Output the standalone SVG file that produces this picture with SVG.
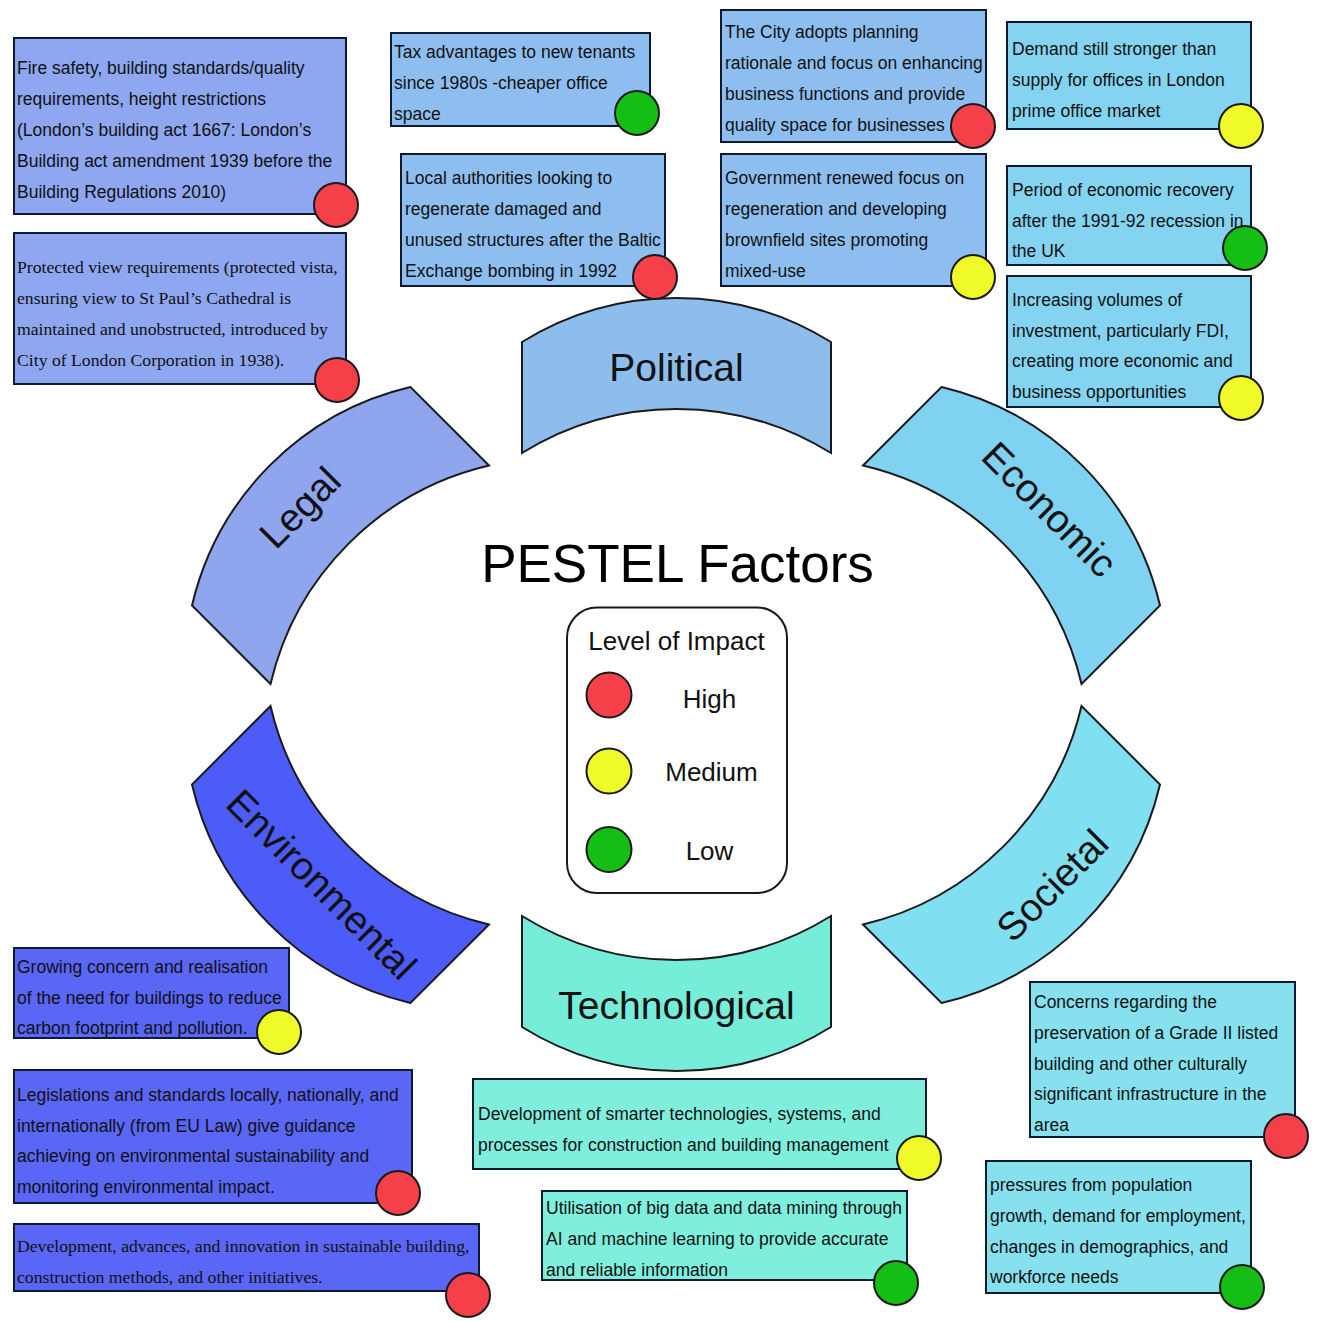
<svg xmlns="http://www.w3.org/2000/svg" xmlns:xlink="http://www.w3.org/1999/xlink" width="1320" height="1321" viewBox="0 0 1320 1321">
<style>
.band{stroke:#1a1a1a;stroke-width:2}
.lbl{font-family:"Liberation Sans",Arial,sans-serif;font-size:39px;fill:#111;text-anchor:middle}
.box{stroke:#0d1a33;stroke-width:2}
.t{font-family:"Liberation Sans",Arial,sans-serif;font-size:17.5px;fill:#111}
.s{font-family:"Liberation Serif","Times New Roman",serif;font-size:17.7px;fill:#111}
.dot{stroke:#1a1a1a;stroke-width:2}
.red{fill:#F5404A}
.yel{fill:#F0FA28}
.grn{fill:#14BE14}
.cP{fill:#8EBEF0}.cL{fill:#8EA7F0}.cE{fill:#84D3F0}.cV{fill:#5A66F5}.cT{fill:#80EEDC}.cS{fill:#86E0EE}
</style>
<defs>
<path id="up" d="M-154.5,-55.5 A293,293 0 0 1 154.5,-55.5 L154.5,55.5 A293,293 0 0 0 -154.5,55.5 Z"/>
<path id="down" d="M-154.5,-55.5 A293,293 0 0 0 154.5,-55.5 L154.5,55.5 A293,293 0 0 1 -154.5,55.5 Z"/>
</defs>
<rect width="1320" height="1321" fill="#fff"/>

<g id="bands">
<g id="political"><use xlink:href="#up" class="band" fill="#8DBDED" transform="translate(676.5,397.5)"/><text class="lbl" x="676.5" y="381">Political</text></g>
<g id="technological"><use xlink:href="#down" class="band" fill="#76EDD9" transform="translate(676.5,971.5)"/><text class="lbl" x="676.5" y="1019">Technological</text></g>
<g id="legal"><use xlink:href="#up" class="band" fill="#8FA6EE" transform="translate(340.5,535.5) rotate(-45)"/><text class="lbl" transform="translate(302.5,510) rotate(-45)" y="10">Legal</text></g>
<g id="economic"><use xlink:href="#up" class="band" fill="#7FD2F2" transform="translate(1011.5,535.5) rotate(45)"/><text class="lbl" transform="translate(1050,509) rotate(45)" y="14">Economic</text></g>
<g id="environmental"><use xlink:href="#down" class="band" fill="#4C5CF8" transform="translate(340.5,854.5) rotate(45)"/><text class="lbl" transform="translate(322,884) rotate(45)" y="14">Environmental</text></g>
<g id="societal"><use xlink:href="#down" class="band" fill="#80DFF0" transform="translate(1011.5,854.5) rotate(-45)"/><text class="lbl" transform="translate(1052,885) rotate(-45)" y="14">Societal</text></g>
</g>

<g id="title"><text x="677.5" y="582" style="font-family:'Liberation Sans',Arial,sans-serif;font-size:53px;fill:#000;text-anchor:middle">PESTEL Factors</text></g>

<g id="legend">
<rect x="567" y="607.5" width="220" height="285.5" rx="30" fill="#fff" stroke="#1a1a1a" stroke-width="2"/>
<text x="676.5" y="650" style="font-family:'Liberation Sans',Arial,sans-serif;font-size:26px;fill:#111;text-anchor:middle">Level of Impact</text>
<circle class="dot red" cx="609" cy="695" r="22.5"/>
<circle class="dot yel" cx="609" cy="771" r="22.5"/>
<circle class="dot grn" cx="609" cy="849.5" r="22.5"/>
<g style="font-family:'Liberation Sans',Arial,sans-serif;font-size:26px;fill:#111;text-anchor:middle">
<text x="709.5" y="708">High</text>
<text x="711.5" y="781">Medium</text>
<text x="709.5" y="860">Low</text>
</g>
</g>

<g id="legal-box-1">
<rect class="box cL" x="14" y="38" width="332" height="176"/>
<text class="t"><tspan x="17" y="74">Fire safety, building standards/quality</tspan><tspan x="17" y="105">requirements, height restrictions</tspan><tspan x="17" y="136">(London’s building act 1667: London’s</tspan><tspan x="17" y="167">Building act amendment 1939 before the</tspan><tspan x="17" y="198">Building Regulations 2010)</tspan></text>
<circle class="dot red" cx="336" cy="205" r="22"/>
</g>
<g id="legal-box-2">
<rect class="box cL" x="14" y="233" width="332" height="151"/>
<text class="s"><tspan x="17" y="273">Protected view requirements (protected vista,</tspan><tspan x="17" y="304">ensuring view to St Paul’s Cathedral is</tspan><tspan x="17" y="335">maintained and unobstructed, introduced by</tspan><tspan x="17" y="366">City of London Corporation in 1938).</tspan></text>
<circle class="dot red" cx="337" cy="380" r="22"/>
</g>

<g id="political-box-1">
<rect class="box cP" x="391" y="33" width="259" height="93"/>
<text class="t"><tspan x="394" y="58">Tax advantages to new tenants</tspan><tspan x="394" y="89">since 1980s -cheaper office</tspan><tspan x="394" y="120">space</tspan></text>
<circle class="dot grn" cx="637" cy="113" r="22"/>
</g>
<g id="political-box-2">
<rect class="box cP" x="401" y="154" width="264" height="132"/>
<text class="t"><tspan x="405" y="184">Local authorities looking to</tspan><tspan x="405" y="215">regenerate damaged and</tspan><tspan x="405" y="246">unused structures after the Baltic</tspan><tspan x="405" y="277">Exchange bombing in 1992</tspan></text>
<circle class="dot red" cx="655" cy="277" r="22"/>
</g>
<g id="political-box-3">
<rect class="box cP" x="721" y="10" width="265" height="132"/>
<text class="t"><tspan x="725" y="38">The City adopts planning</tspan><tspan x="725" y="69">rationale and focus on enhancing</tspan><tspan x="725" y="100">business functions and provide</tspan><tspan x="725" y="131">quality space for businesses</tspan></text>
<circle class="dot red" cx="973" cy="126" r="22"/>
</g>
<g id="political-box-4">
<rect class="box cP" x="721" y="154" width="265" height="132"/>
<text class="t"><tspan x="725" y="184">Government renewed focus on</tspan><tspan x="725" y="215">regeneration and developing</tspan><tspan x="725" y="246">brownfield sites promoting</tspan><tspan x="725" y="277">mixed-use</tspan></text>
<circle class="dot yel" cx="973" cy="277" r="22"/>
</g>

<g id="economic-box-1">
<rect class="box cE" x="1007" y="22" width="244" height="107"/>
<text class="t"><tspan x="1012" y="55">Demand still stronger than</tspan><tspan x="1012" y="86">supply for offices in London</tspan><tspan x="1012" y="117">prime office market</tspan></text>
<circle class="dot yel" cx="1241" cy="126" r="22"/>
</g>
<g id="economic-box-2">
<rect class="box cE" x="1007" y="166" width="244" height="99"/>
<text class="t"><tspan x="1012" y="196">Period of economic recovery</tspan><tspan x="1012" y="227">after the 1991-92 recession in</tspan><tspan x="1012" y="257">the UK</tspan></text>
<circle class="dot grn" cx="1245" cy="248" r="22"/>
</g>
<g id="economic-box-3">
<rect class="box cE" x="1007" y="276" width="244" height="131"/>
<text class="t"><tspan x="1012" y="306">Increasing volumes of</tspan><tspan x="1012" y="337">investment, particularly FDI,</tspan><tspan x="1012" y="367">creating more economic and</tspan><tspan x="1012" y="398">business opportunities</tspan></text>
<circle class="dot yel" cx="1241" cy="398" r="22"/>
</g>

<g id="environmental-box-1">
<rect class="box cV" x="14" y="948" width="275" height="90"/>
<text class="t"><tspan x="17" y="973">Growing concern and realisation</tspan><tspan x="17" y="1004">of the need for buildings to reduce</tspan><tspan x="17" y="1034">carbon footprint and pollution.</tspan></text>
<circle class="dot yel" cx="279" cy="1032" r="22"/>
</g>
<g id="environmental-box-2">
<rect class="box cV" x="14" y="1070" width="398" height="133"/>
<text class="t"><tspan x="17" y="1101">Legislations and standards locally, nationally, and</tspan><tspan x="17" y="1132">internationally (from EU Law) give guidance</tspan><tspan x="17" y="1162">achieving on environmental sustainability and</tspan><tspan x="17" y="1193">monitoring environmental impact.</tspan></text>
<circle class="dot red" cx="398" cy="1193" r="22"/>
</g>
<g id="environmental-box-3">
<rect class="box cV" x="14" y="1224" width="465" height="67"/>
<text class="s"><tspan x="17" y="1252">Development, advances, and innovation in sustainable building,</tspan><tspan x="17" y="1283">construction methods, and other initiatives.</tspan></text>
<circle class="dot red" cx="468" cy="1295" r="22"/>
</g>

<g id="technological-box-1">
<rect class="box cT" x="473" y="1079" width="453" height="90"/>
<text class="t"><tspan x="478" y="1120">Development of smarter technologies, systems, and</tspan><tspan x="478" y="1151">processes for construction and building management</tspan></text>
<circle class="dot yel" cx="919" cy="1158" r="22"/>
</g>
<g id="technological-box-2">
<rect class="box cT" x="542" y="1191" width="365" height="89"/>
<text class="t"><tspan x="546" y="1214">Utilisation of big data and data mining through</tspan><tspan x="546" y="1245">AI and machine learning to provide accurate</tspan><tspan x="546" y="1276">and reliable information</tspan></text>
<circle class="dot grn" cx="896" cy="1283" r="22"/>
</g>

<g id="societal-box-1">
<rect class="box cS" x="1030" y="982" width="265" height="155"/>
<text class="t"><tspan x="1034" y="1008">Concerns regarding the</tspan><tspan x="1034" y="1039">preservation of a Grade II listed</tspan><tspan x="1034" y="1070">building and other culturally</tspan><tspan x="1034" y="1100">significant infrastructure in the</tspan><tspan x="1034" y="1131">area</tspan></text>
<circle class="dot red" cx="1286" cy="1136" r="22"/>
</g>
<g id="societal-box-2">
<rect class="box cS" x="986" y="1161" width="265" height="132"/>
<text class="t"><tspan x="990" y="1191">pressures from population</tspan><tspan x="990" y="1222">growth, demand for employment,</tspan><tspan x="990" y="1253">changes in demographics, and</tspan><tspan x="990" y="1283">workforce needs</tspan></text>
<circle class="dot grn" cx="1242" cy="1287" r="22"/>
</g>
<g id="connectors"/>
</svg>
